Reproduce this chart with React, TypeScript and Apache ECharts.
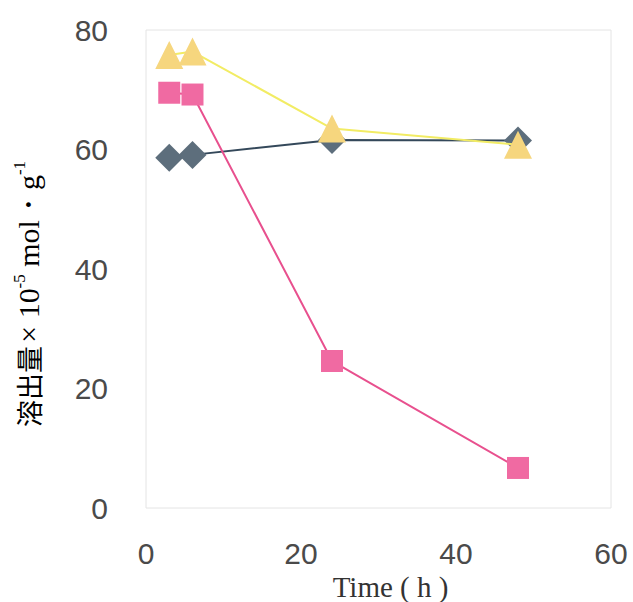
import React, { useEffect, useRef } from "react";
import * as echarts from "echarts";

const hours = [3, 6, 24, 48];
const triangleSeries = [75.8, 76.4, 63.5, 60.8];
const squareSeries = [69.5, 69.2, 24.6, 6.7];
const diamondSeries = [58.6, 59.1, 61.6, 61.5];
const xTicks = [0, 20, 40, 60];
const yTicks = [0, 20, 40, 60, 80];

const pair = (vals: number[]) => hours.map((h, i) => [h, vals[i]]);

export default function App() {
  const ref = useRef<HTMLDivElement>(null);
  useEffect(() => {
    if (!ref.current) return;
    const chart = echarts.init(ref.current, undefined, { renderer: "svg" });
    const numFont = { fontFamily: "Liberation Sans, Arial, sans-serif", fontSize: 30, color: "#4a4a4a" };
    chart.setOption({
      animation: false,
      backgroundColor: "#fff",
      grid: {
        left: 146,
        right: 22,
        top: 30,
        bottom: 94,
        show: true,
        borderColor: "#e4e4e4",
        borderWidth: 1,
        outerBoundsMode: "none",
        containLabel: false,
      },
      xAxis: {
        type: "value",
        min: xTicks[0],
        max: xTicks[xTicks.length - 1],
        interval: 20,
        axisLine: { show: false },
        axisTick: { show: false },
        splitLine: { show: false },
        axisLabel: { ...numFont, margin: 30 },
        name: "Time ( h )",
        nameLocation: "middle",
        nameGap: 59,
        nameTextStyle: {
          fontFamily: "Liberation Serif, DejaVu Serif, serif",
          fontSize: 29,
          color: "#333",
          padding: [0, 0, 0, 24],
          verticalAlign: "top",
        },
      },
      yAxis: {
        type: "value",
        min: yTicks[0],
        max: yTicks[yTicks.length - 1],
        interval: 20,
        axisLine: { show: false },
        axisTick: { show: false },
        splitLine: { show: false },
        axisLabel: { ...numFont, margin: 38 },
      },
      graphic: [
        {
          type: "text",
          x: 28,
          y: 294,
          rotation: Math.PI / 2,
          style: {
            text: "{c|溶出量} {a|× 10}{s|-5}{a| mol・g}{s|-1}",
            align: "center",
            verticalAlign: "middle",
            rich: {
              c: {
                fontFamily: "Noto Sans CJK JP, sans-serif",
                fontSize: 27,
                color: "#333",
                lineHeight: 34,
              },
              a: {
                fontFamily: "Liberation Serif, serif",
                fontSize: 30,
                color: "#333",
                lineHeight: 34,
              },
              s: {
                fontFamily: "Liberation Serif, serif",
                fontSize: 17,
                color: "#333",
                lineHeight: 34,
                verticalAlign: "top",
                padding: [0, 0, 13, 0],
              },
            },
          },
        },
      ],
      series: [
        {
          type: "line",
          data: pair(diamondSeries),
          symbol: "diamond",
          symbolSize: 28,
          lineStyle: { color: "#34485a", width: 2 },
          itemStyle: { color: "#5d6e7c" },
          z: 2,
        },
        {
          type: "line",
          data: pair(squareSeries),
          symbol: "rect",
          symbolSize: 22,
          lineStyle: { color: "#e8508e", width: 2 },
          itemStyle: { color: "#f06aa2" },
          z: 3,
        },
        {
          type: "line",
          data: pair(triangleSeries),
          symbol: "triangle",
          symbolSize: 28,
          lineStyle: { color: "#f2ec64", width: 2 },
          itemStyle: { color: "#f6d67e" },
          z: 4,
        },
      ],
    });
    return () => chart.dispose();
  }, []);
  return (
    <div
      ref={ref}
      style={{ position: "fixed", left: 0, top: 0, width: 633, height: 602 }}
    />
  );
}
